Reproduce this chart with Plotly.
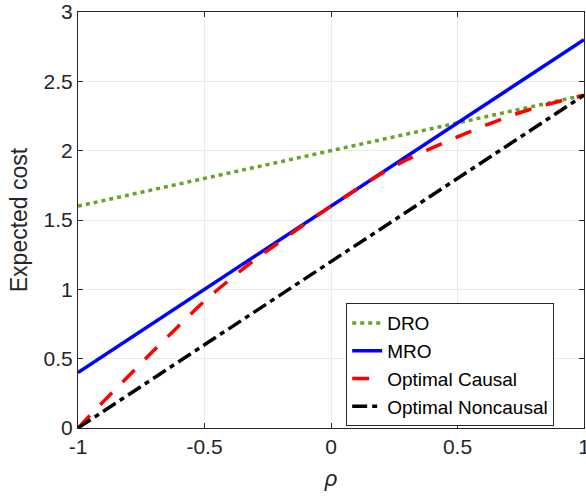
import plotly.graph_objects as go

rho_ends = [-1.0, 1.0]
dro = [1.6, 2.4]
mro = [0.4, 2.8]
noncausal = [0.0, 2.4]

rho_causal = [-1.0, -0.9, -0.8, -0.7, -0.6, -0.5, -0.4, -0.3, -0.2, -0.1, 0.0,
              0.1, 0.2, 0.3, 0.4, 0.5, 0.6, 0.7, 0.8, 0.9, 1.0]
causal = [0.0, 0.19, 0.375, 0.56, 0.74, 0.915, 1.07, 1.215, 1.345, 1.475, 1.6,
          1.72, 1.835, 1.935, 2.02, 2.1, 2.175, 2.245, 2.305, 2.355, 2.4]

x_ticks = [-1, -0.5, 0, 0.5, 1]
x_tick_labels = ["-1", "-0.5", "0", "0.5", "1"]
y_ticks = [0, 0.5, 1, 1.5, 2, 2.5, 3]
y_tick_labels = ["0", "0.5", "1", "1.5", "2", "2.5", "3"]

FONT = "Liberation Sans, Arial, sans-serif"
AX = "#262626"

fig = go.Figure()
fig.add_trace(go.Scatter(x=rho_ends, y=dro, mode="lines", name="DRO",
                         line=dict(color="#6aa02c", width=3.5, dash="4px,4px")))
fig.add_trace(go.Scatter(x=rho_ends, y=mro, mode="lines", name="MRO",
                         line=dict(color="#0000ff", width=3.5)))
fig.add_trace(go.Scatter(x=rho_causal, y=causal, mode="lines", name="Optimal Causal",
                         line=dict(color="#ff0000", width=3.5, dash="17px,15px", shape="spline")))
fig.add_trace(go.Scatter(x=rho_ends, y=noncausal, mode="lines", name="Optimal Noncausal",
                         line=dict(color="#000000", width=3.5, dash="15px,5px,5px,5px")))

axis_common = dict(
    showgrid=True, gridcolor="#ebebeb", gridwidth=1,
    showline=True, linecolor=AX, linewidth=1, mirror="ticks",
    ticks="inside", ticklen=5, tickcolor=AX, tickwidth=1,
    zeroline=False, automargin=False, ticklabeloverflow="allow",
    tickfont=dict(family=FONT, size=21, color=AX),
)

fig.update_xaxes(range=[-1, 1], tickvals=x_ticks, ticktext=x_tick_labels,
                 title=dict(text="<i>ρ</i>", font=dict(family=FONT, size=22, color=AX), standoff=13),
                 **axis_common)
fig.update_yaxes(range=[0, 3], tickvals=y_ticks, ticktext=y_tick_labels,
                 title=dict(text="Expected cost", font=dict(family=FONT, size=23, color=AX), standoff=9),
                 **axis_common)

fig.update_layout(
    width=586, height=497,
    margin=dict(l=78, r=2, t=12, b=69),
    paper_bgcolor="white", plot_bgcolor="white",
    showlegend=True,
    legend=dict(x=0.53, y=0.30, xanchor="left", yanchor="top",
                bgcolor="white", bordercolor=AX, borderwidth=1,
                font=dict(family=FONT, size=19, color="#000000"),
                tracegroupgap=0, itemwidth=30),
)

fig.write_html("out.html", config={"displayModeBar": False},
               post_script="document.body.style.margin='0';document.body.style.overflow='hidden';")
